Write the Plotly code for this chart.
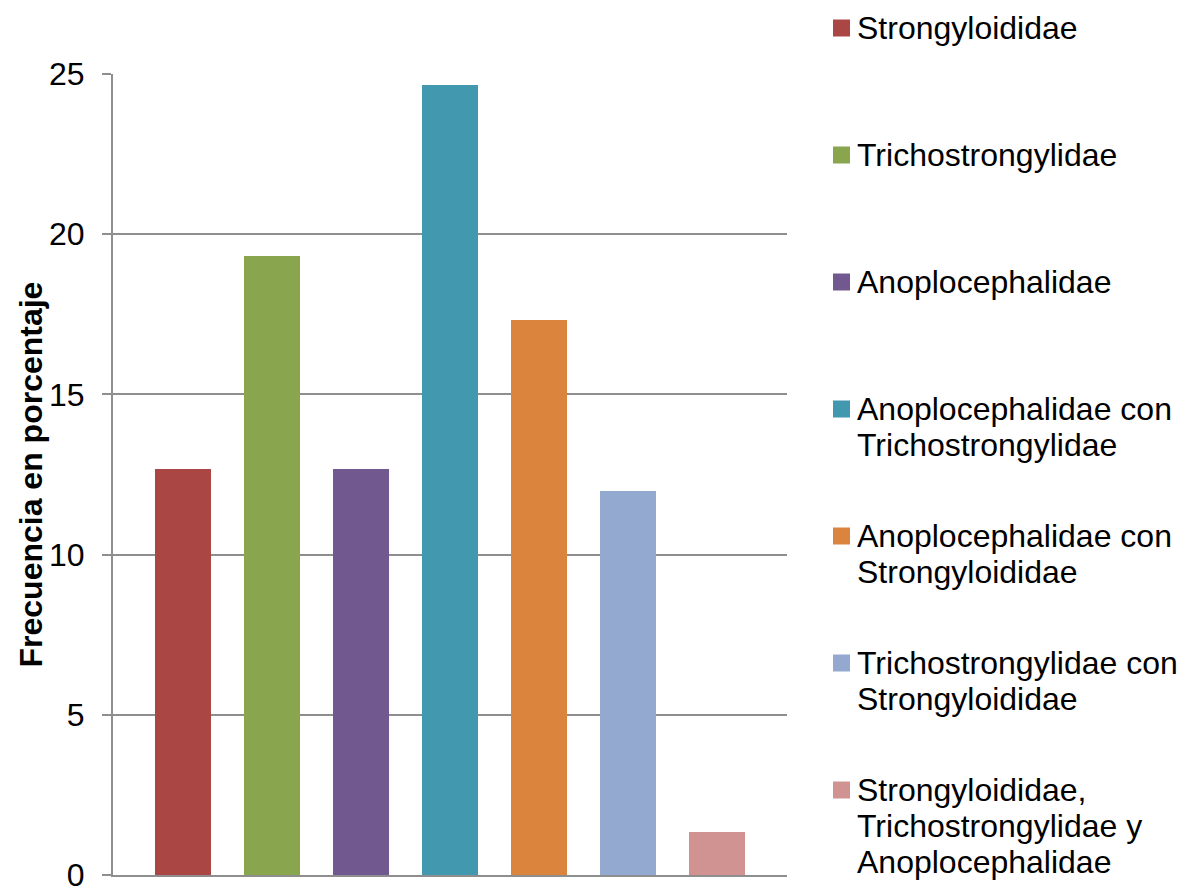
import plotly.graph_objects as go

# Prevalence of parasite families (percentage of positive samples)
categories = [
    "Strongyloididae",
    "Trichostrongylidae",
    "Anoplocephalidae",
    "Anoplocephalidae con Trichostrongylidae",
    "Anoplocephalidae con Strongyloididae",
    "Trichostrongylidae con Strongyloididae",
    "Strongyloididae, Trichostrongylidae y Anoplocephalidae",
]
values = [12.67, 19.33, 12.67, 24.67, 17.33, 12.0, 1.33]
colors = ["#AA4643", "#89A54E", "#71588F", "#4198AF", "#DB843D", "#93A9CF", "#D19392"]

# Legend labels, already wrapped into lines
legend_lines = [
    ["Strongyloididae"],
    ["Trichostrongylidae"],
    ["Anoplocephalidae"],
    ["Anoplocephalidae con", "Trichostrongylidae"],
    ["Anoplocephalidae con", "Strongyloididae"],
    ["Trichostrongylidae con", "Strongyloididae"],
    ["Strongyloididae,", "Trichostrongylidae y", "Anoplocephalidae"],
]

y_ticks = [0, 5, 10, 15, 20, 25]

W, H = 1179, 886
L, R, T, B = 113, 392, 74, 11
PW, PH = W - L - R, H - T - B
FONT = "Liberation Sans, Arial, sans-serif"
GRID = "#8E8E8E"


def px_x(x):
    return (x - L) / PW


def px_y(y):
    return (H - B - y) / PH


fig = go.Figure(
    go.Bar(
        x=list(range(len(categories))),
        y=values,
        marker=dict(color=colors, line=dict(width=0)),
        width=0.63,
        hovertext=categories,
        showlegend=False,
    )
)

annotations = [
    dict(
        text="<b>Frecuencia en porcentaje</b>",
        xref="paper", yref="paper",
        x=px_x(30), y=0.5,
        xanchor="center", yanchor="middle",
        textangle=-90, showarrow=False,
        font=dict(family=FONT, size=32, color="black"),
    )
]
shapes = []
for i, (lines, col) in enumerate(zip(legend_lines, colors)):
    top = 28 + 127 * i
    shapes.append(dict(
        type="rect", xref="paper", yref="paper",
        x0=px_x(833), x1=px_x(850),
        y0=px_y(top + 8.5), y1=px_y(top - 8.5),
        fillcolor=col, line=dict(width=0),
    ))
    for j, line in enumerate(lines):
        annotations.append(dict(
            text=line, xref="paper", yref="paper",
            x=px_x(855), y=px_y(top + 36 * j),
            xanchor="left", yanchor="middle",
            showarrow=False,
            font=dict(family=FONT, size=32, color="black"),
        ))

fig.update_layout(
    width=W, height=H,
    margin=dict(l=L, r=R, t=T, b=B),
    paper_bgcolor="white", plot_bgcolor="white",
    font=dict(family=FONT, size=32, color="black"),
    annotations=annotations,
    shapes=shapes,
    bargap=0,
)
fig.update_xaxes(
    range=[-0.7865, 6.7865], automargin=False,
    showticklabels=False, showgrid=False, zeroline=False,
    showline=True, linecolor=GRID, linewidth=2,
)
fig.update_yaxes(
    range=[0, 25], tickvals=y_ticks, automargin=False,
    showgrid=True, gridcolor=GRID, gridwidth=1.5,
    zeroline=False, showline=True, linecolor=GRID, linewidth=2,
    ticks="outside", ticklen=9, tickcolor=GRID, tickwidth=1.5,
    ticklabelstandoff=11, ticklabeloverflow="allow",
    tickfont=dict(family=FONT, size=32, color="black"),
)

fig.write_html("out.html")
